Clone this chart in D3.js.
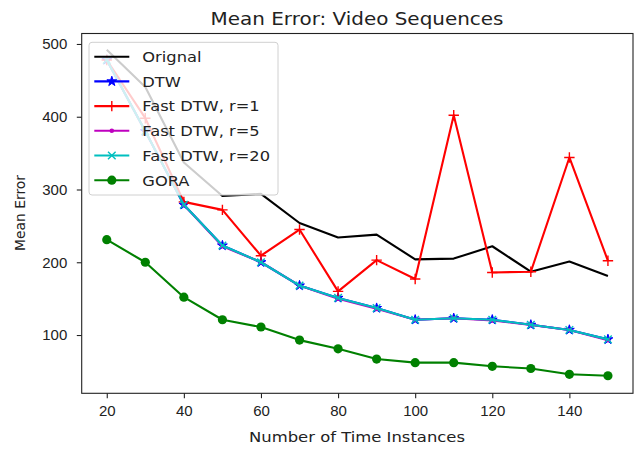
<!DOCTYPE html>
<html>
<head>
<meta charset="utf-8">
<script src="https://cdn.jsdelivr.net/npm/d3@7"></script>
<style>
  body { margin: 0; background: #fff; }
  svg { font-family: "DejaVu Sans", sans-serif; }
  .tick text { font-size: 15px; fill: #222; }
</style>
</head>
<body>
<div id="chart"></div>
<script>
// data
const instances = [20, 30, 40, 50, 60, 70, 80, 90, 100, 110, 120, 130, 140, 150];
const original = [492, 441, 337, 291, 294, 254, 234, 238, 204, 205, 222, 187, 201, 181];
const dtw      = [478, 380, 279, 223, 200, 168, 151, 137, 121, 123, 121, 114, 107, 94];
const fast1    = [478, 398, 283, 272, 209, 245, 160, 203, 177, 402, 186, 187, 344, 202];
const fast5    = [478, 380, 279, 222, 200, 168, 150, 136, 121, 123, 120, 114, 107, 93];
const fast20   = [478, 380, 279, 223, 200, 168, 151, 137, 121, 123, 121, 114, 107, 94];
const gora     = [231, 200, 152, 121, 111, 93, 81, 67, 62, 62, 57, 54, 46, 44];
const xTicks = [20, 40, 60, 80, 100, 120, 140];
const yTicks = [100, 200, 300, 400, 500];

const width = 637, height = 454;
const margin = { left: 81.7, top: 33.5, right: 4, bottom: 60.7 };

const series = [
    { name: 'Orignal', values: original, color: '#000000', marker: 'none' },
    { name: 'DTW', values: dtw, color: '#0000ff', marker: 'star' },
    { name: 'Fast DTW, r=1', values: fast1, color: '#ff0000', marker: 'plus' },
    { name: 'Fast DTW, r=5', values: fast5, color: '#bf00bf', marker: 'point' },
    { name: 'Fast DTW, r=20', values: fast20, color: '#00bfbf', marker: 'x' },
    { name: 'GORA', values: gora, color: '#008000', marker: 'circle' }
];

const svg = d3.select('#chart').append('svg')
    .attr('width', width)
    .attr('height', height);

const x = d3.scaleLinear().domain([13.5, 156.5]).range([margin.left, width - margin.right]);
const y = d3.scaleLinear().domain([19.9, 514.4]).range([height - margin.bottom, margin.top]);

// the reference text is a bit wider than it is tall, so stretch it sideways
function label(x0, y0, txt, size, sx, anchor) {
    return svg.append('text')
        .attr('transform', `translate(${x0},${y0}) scale(${sx},1)`)
        .attr('text-anchor', anchor || 'middle')
        .attr('font-size', size).attr('fill', '#222')
        .text(txt);
}

// draws one marker of a given kind at (cx, cy)
function marker(g, kind, cx, cy, color) {
    if (kind === 'star') {
        g.append('path')
            .attr('d', d3.symbol(d3.symbolStar, 30)())
            .attr('transform', `translate(${cx},${cy})`)
            .attr('fill', color).attr('stroke', color).attr('stroke-width', 1);
    } else if (kind === 'plus') {
        const r = 5.2;
        g.append('path')
            .attr('d', `M${cx - r},${cy}H${cx + r}M${cx},${cy - r}V${cy + r}`)
            .attr('stroke', color).attr('stroke-width', 1.4).attr('fill', 'none');
    } else if (kind === 'x') {
        const r = 3.8;
        g.append('path')
            .attr('d', `M${cx - r},${cy - r}L${cx + r},${cy + r}M${cx - r},${cy + r}L${cx + r},${cy - r}`)
            .attr('stroke', color).attr('stroke-width', 1.4).attr('fill', 'none');
    } else if (kind === 'point') {
        g.append('circle').attr('cx', cx).attr('cy', cy).attr('r', 2.3).attr('fill', color);
    } else if (kind === 'circle') {
        g.append('circle').attr('cx', cx).attr('cy', cy).attr('r', 4.6).attr('fill', color);
    }
}

const line = d3.line()
    .x((d, i) => x(instances[i]))
    .y(d => y(d));

const plot = svg.append('g');
series.forEach(s => {
    plot.append('path')
        .datum(s.values)
        .attr('d', line)
        .attr('fill', 'none')
        .attr('stroke', s.color)
        .attr('stroke-width', 2.1)
        .attr('stroke-linejoin', 'round');
    s.values.forEach((v, i) => marker(plot, s.marker, x(instances[i]), y(v), s.color));
});

// axes
svg.append('g')
    .attr('transform', `translate(0,${height - margin.bottom})`)
    .call(d3.axisBottom(x).tickValues(xTicks).tickSize(4.9).tickPadding(6.8).tickSizeOuter(0))
    .call(g => g.select('.domain').remove());
svg.append('g')
    .attr('transform', `translate(${margin.left},0)`)
    .call(d3.axisLeft(y).tickValues(yTicks).tickSize(4.9).tickPadding(9.5).tickSizeOuter(0))
    .call(g => g.select('.domain').remove());
svg.selectAll('.tick line').attr('stroke', '#222').attr('stroke-width', 1.1);

svg.append('rect')
    .attr('x', margin.left).attr('y', margin.top)
    .attr('width', width - margin.right - margin.left)
    .attr('height', height - margin.bottom - margin.top)
    .attr('fill', 'none').attr('stroke', '#222').attr('stroke-width', 1.1);

// titles
label(357, 25, 'Mean Error: Video Sequences', 17.5, 1.14);
label(357, 441.5, 'Number of Time Instances', 14.8, 1.11);
svg.append('text')
    .attr('transform', 'translate(25,213) rotate(-90)')
    .attr('text-anchor', 'middle')
    .attr('font-size', 13.9).attr('fill', '#222')
    .text('Mean Error');

// legend
const legend = svg.append('g');
legend.append('rect')
    .attr('x', 89).attr('y', 42.3).attr('width', 189).attr('height', 152.7)
    .attr('rx', 3)
    .attr('fill', 'rgba(255,255,255,0.8)')
    .attr('stroke', '#d0d0d0').attr('stroke-width', 1);
series.forEach((s, i) => {
    const ly = 56.7 + i * 24.7;
    legend.append('line')
        .attr('x1', 94.3).attr('x2', 129.3)
        .attr('y1', ly).attr('y2', ly)
        .attr('stroke', s.color).attr('stroke-width', 2.1);
    marker(legend, s.marker, 111.8, ly, s.color);
    legend.append('text')
        .attr('transform', `translate(142.3,${ly + 5.3}) scale(1.1,1)`)
        .attr('font-size', 14.8).attr('fill', '#222')
        .text(s.name);
});
</script>
</body>
</html>
